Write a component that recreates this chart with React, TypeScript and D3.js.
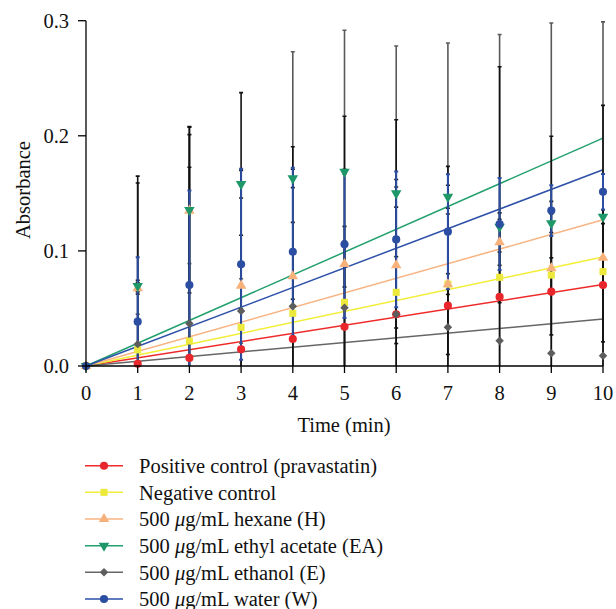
import React from "react";
import * as d3 from "d3";

const times = [0, 1, 2, 3, 4, 5, 6, 7, 8, 9, 10];
const xTicks = [0, 1, 2, 3, 4, 5, 6, 7, 8, 9, 10];
const yTicks = [0, 0.1, 0.2, 0.3];

const positiveMean = [0, 0.002, 0.007, 0.0145, 0.0235, 0.034, 0.045, 0.0524, 0.06, 0.0646, 0.0704];
const positiveErr = [0, 0.163, 0.201, 0.223, 0.167, 0.183, 0.169, 0.121, 0.2, 0.135, 0.156];
const negativeMean = [0, 0.014, 0.0217, 0.0336, 0.0458, 0.0553, 0.064, 0.0712, 0.077, 0.079, 0.082];
const negativeErr = [0, 0.145, 0.151, 0.08, 0.079, 0.066, 0.031, 0.009, 0.022, 0.015, 0.012];
const hexaneMean = [0, 0.0675, 0.135, 0.0698, 0.078, 0.0886, 0.0875, 0.071, 0.1075, 0.085, 0.094];
const hexaneErr = [0, 0.005, 0.066, 0.02, 0.02, 0.02, 0.068, 0.061, 0.02, 0.058, 0.073];
const ethylAcetateMean = [0, 0.0695, 0.1355, 0.158, 0.163, 0.1688, 0.15, 0.147, 0.121, 0.124, 0.1297];
const ethylAcetateErr = [0, 0.005, 0.072, 0.012, 0.008, 0.002, 0.012, 0.01, 0.012, 0.008, 0.006];
const ethanolMean = [0, 0.019, 0.037, 0.0478, 0.052, 0.0507, 0.045, 0.0336, 0.022, 0.011, 0.009];
const ethanolErr = [0, 0.026, 0.052, 0.028, 0.221, 0.241, 0.233, 0.247, 0.266, 0.287, 0.29];
const waterMean = [0, 0.0385, 0.0704, 0.0884, 0.0993, 0.1057, 0.11, 0.1167, 0.1234, 0.135, 0.1514];
const waterErr = [0, 0.056, 0.082, 0.083, 0.073, 0.064, 0.059, 0.05, 0.04, 0.022, 0.0155];

// [prefix, italic mu?, suffix]
const seriesLabels: [string, boolean, string][] = [
  ["Positive control (pravastatin)", false, ""],
  ["Negative control", false, ""],
  ["500 ", true, "g/mL hexane (H)"],
  ["500 ", true, "g/mL ethyl acetate (EA)"],
  ["500 ", true, "g/mL ethanol (E)"],
  ["500 ", true, "g/mL water (W)"],
];

type Series = {
  label: [string, boolean, string];
  mean: number[];
  err: number[];
  color: string;
  lineColor: string;
  barColor: string;
  shape: string;
};

const FONT = "'Liberation Serif', 'Times New Roman', serif";

export default function App() {
  const series: Series[] = [
    { label: seriesLabels[0], mean: positiveMean, err: positiveErr, color: "#e8262b", lineColor: "#ee2a2a", barColor: "#111", shape: "circle" },
    { label: seriesLabels[1], mean: negativeMean, err: negativeErr, color: "#ece93c", lineColor: "#f2ee36", barColor: "#111", shape: "square" },
    { label: seriesLabels[2], mean: hexaneMean, err: hexaneErr, color: "#f7b27c", lineColor: "#f8b482", barColor: "#111", shape: "triUp" },
    { label: seriesLabels[3], mean: ethylAcetateMean, err: ethylAcetateErr, color: "#1e9868", lineColor: "#22a06e", barColor: "#111", shape: "triDown" },
    { label: seriesLabels[4], mean: ethanolMean, err: ethanolErr, color: "#5d5d5d", lineColor: "#666", barColor: "#5a5a5a", shape: "diamond" },
    { label: seriesLabels[5], mean: waterMean, err: waterErr, color: "#2c4ea2", lineColor: "#2d50a8", barColor: "#2c4ea2", shape: "circle" },
  ];

  const x = d3.scaleLinear().domain([0, 10]).range([86, 603]);
  const y = d3.scaleLinear().domain([0, 0.3]).range([366, 20.7]);

  const sumXX = d3.sum(times, (t) => t * t);

  const symbolPath = (shape: string) => {
    switch (shape) {
      case "circle":
        return d3.symbol(d3.symbolCircle, 52)()!;
      case "square":
        return d3.symbol(d3.symbolSquare, 50)()!;
      case "triUp":
      case "triDown":
        return d3.symbol(d3.symbolTriangle, 48)()!;
      case "diamond":
        return d3.symbol(d3.symbolSquare, 36)()!;
      default:
        return d3.symbol(d3.symbolCircle, 50)()!;
    }
  };
  const symbolRot = (shape: string) => (shape === "triDown" ? 180 : shape === "diamond" ? 45 : 0);

  const barOrder = [4, 0, 1, 2, 3, 5];
  const legendY0 = 465.7;
  const legendStep = 26.66;

  return (
    <svg width={616} height={609} style={{ position: "absolute", left: 0, top: 0, background: "#fff" }} fontFamily={FONT}>
      <defs>
        <clipPath id="plotClip">
          <rect x={60} y={y(0.3)} width={560} height={y(0) - y(0.3)} />
        </clipPath>
      </defs>

      {/* trend lines (regression through origin) */}
      <g>
        {series.map((s, i) => {
          const slope = d3.sum(times, (t, k) => t * s.mean[k]) / sumXX;
          return (
            <line key={i} x1={x(0)} y1={y(0)} x2={x(10)} y2={y(slope * 10)} stroke={s.lineColor} strokeWidth={1.5} />
          );
        })}
      </g>

      {/* error bars */}
      <g clipPath="url(#plotClip)">
        {barOrder.map((si) => {
          const s = series[si];
          return (
            <g key={si} stroke={s.barColor} strokeWidth={si === 5 ? 2 : 1.6}>
              {times.map((t, k) => {
                if (s.err[k] <= 0) return null;
                const cx = x(t);
                const yt = y(s.mean[k] + s.err[k]);
                const yb = y(s.mean[k] - s.err[k]);
                return (
                  <g key={k}>
                    <line x1={cx} x2={cx} y1={yt} y2={yb} />
                    <line x1={cx - 2} x2={cx + 2} y1={yt} y2={yt} />
                    <line x1={cx - 2} x2={cx + 2} y1={yb} y2={yb} />
                  </g>
                );
              })}
            </g>
          );
        })}
      </g>

      {/* markers */}
      <g>
        {series.map((s, i) => (
          <g key={i} fill={s.color}>
            {times.map((t, k) => (
              <path
                key={k}
                d={symbolPath(s.shape)}
                transform={`translate(${x(t)},${y(s.mean[k])}) rotate(${symbolRot(s.shape)})`}
              />
            ))}
          </g>
        ))}
      </g>

      {/* axes */}
      <g stroke="#000" strokeWidth={1.3} fill="none">
        <line x1={x(0)} x2={x(0)} y1={y(0.3)} y2={y(0)} />
        <line x1={x(0)} x2={x(10)} y1={y(0)} y2={y(0)} />
        {yTicks.map((v) => (
          <line key={v} x1={x(0) - 8} x2={x(0)} y1={y(v)} y2={y(v)} />
        ))}
        {xTicks.map((v) => (
          <line key={v} x1={x(v)} x2={x(v)} y1={y(0)} y2={y(0) + 7} />
        ))}
      </g>
      <g fontSize={20.5} fill="#111">
        {yTicks.map((v) => (
          <text key={v} x={x(0) - 17} y={y(v)} dy="0.35em" textAnchor="end">
            {d3.format(".1f")(v)}
          </text>
        ))}
        {xTicks.map((v) => (
          <text key={v} x={x(v)} y={400} textAnchor="middle">
            {v}
          </text>
        ))}
        <text x={344} y={432} textAnchor="middle">Time (min)</text>
        <text transform={`translate(30,190) rotate(-90)`} textAnchor="middle">Absorbance</text>
      </g>

      {/* legend */}
      <g fontSize={20.5} fill="#111">
        {series.map((s, i) => {
          const cy = legendY0 + i * legendStep;
          return (
            <g key={i}>
              <line x1={85} x2={123} y1={cy} y2={cy} stroke={s.lineColor} strokeWidth={1.5} />
              <path d={symbolPath(s.shape)} fill={s.color} transform={`translate(104,${cy}) rotate(${symbolRot(s.shape)})`} />
              <text x={139} y={cy} dy="0.35em">
                {s.label[0]}
                {s.label[1] ? <tspan fontStyle="italic">{"\u03bc"}</tspan> : null}
                {s.label[2]}
              </text>
            </g>
          );
        })}
      </g>
    </svg>
  );
}
